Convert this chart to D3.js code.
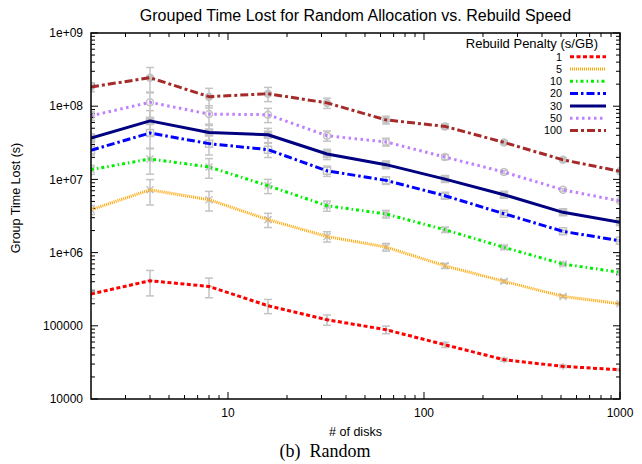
<!DOCTYPE html>
<html>
<head>
<meta charset="utf-8">
<script src="https://cdn.jsdelivr.net/npm/d3@7"></script>
<style>
  body { margin: 0; background: #fff; }
  text { font-family: "Liberation Sans", Arial, sans-serif; }
</style>
</head>
<body>
<div id="visualization"></div>
<script>
// number of disks (x) and rebuild penalty groups
let disks = [2, 4, 8, 16, 32, 64, 128, 256, 512, 1000]
let penalties = ['1', '5', '10', '20', '30', '50', '100']

// group time lost (s), one array per penalty
let lost1 = [2.72e5, 4.13e5, 3.45e5, 1.88e5, 1.21e5, 8.85e4, 5.5e4, 3.44e4, 2.79e4, 2.51e4]
let lost5 = [3.85e6, 7.2e6, 5.28e6, 2.82e6, 1.66e6, 1.19e6, 6.6e5, 4.05e5, 2.52e5, 2.0e5]
let lost10 = [1.36e7, 1.9e7, 1.48e7, 8.2e6, 4.37e6, 3.37e6, 2.05e6, 1.18e6, 6.98e5, 5.37e5]
let lost20 = [2.5e7, 4.3e7, 3.08e7, 2.55e7, 1.31e7, 9.7e6, 5.98e6, 3.4e6, 1.95e6, 1.45e6]
let lost30 = [3.68e7, 6.3e7, 4.38e7, 4.08e7, 2.22e7, 1.59e7, 1.01e7, 6.18e6, 3.55e6, 2.59e6]
let lost50 = [7.4e7, 1.13e8, 7.8e7, 7.65e7, 3.95e7, 3.25e7, 2.02e7, 1.26e7, 7.2e6, 5.07e6]
let lost100 = [1.83e8, 2.45e8, 1.35e8, 1.48e8, 1.11e8, 6.5e7, 5.3e7, 3.2e7, 1.85e7, 1.29e7]

// error bar half-size as a fraction of the value, per disk count
let relErr = [0.14, 0.38, 0.3, 0.22, 0.16, 0.12, 0.08, 0.05, 0.04, 0.03]

let yTickValues = [1e4, 1e5, 1e6, 1e7, 1e8, 1e9]
let yTickLabels = ['10000', '100000', '1e+06', '1e+07', '1e+08', '1e+09']
let xTickValues = [10, 100, 1000]

let allLost = [lost1, lost5, lost10, lost20, lost30, lost50, lost100]

let styles = [
  { color: '#ff0000', dash: '4,2.5', marker: 'plus' },
  { color: '#ffa500', dash: '1,1', marker: 'cross' },
  { color: '#00ee00', dash: '3,3,1.5,3', marker: 'star' },
  { color: '#0000ff', dash: '8,3,2.5,3', marker: 'square' },
  { color: '#000080', dash: null, marker: 'squareFill' },
  { color: '#bf80ff', dash: '2.5,3.5', marker: 'circle' },
  { color: '#a52a2a', dash: '8,3,3,3', marker: 'circleFill' }
]

let width = 642
let height = 464
let plotLeft = 91
let plotRight = 620
let plotTop = 33
let plotBottom = 399

let svg = d3.select('#visualization')
  .append('svg')
    .attr('width', width)
    .attr('height', height)

let x = d3.scaleLog().domain([2, 1000]).range([plotLeft, plotRight])
let y = d3.scaleLog().domain([1e4, 1e9]).range([plotBottom, plotTop])

svg.append('clipPath')
  .attr('id', 'clip')
  .append('rect')
    .attr('x', plotLeft)
    .attr('y', plotTop)
    .attr('width', plotRight - plotLeft)
    .attr('height', plotBottom - plotTop)

// minor ticks 2..9 per decade
let minorTicks = (lo, hi) => {
  let out = []
  for (let d = lo; d < hi; d *= 10) {
    for (let k = 2; k <= 9; k++) out.push(d * k)
  }
  return out
}

let xMinor = minorTicks(1, 1000).filter(v => v > 2 && v < 1000)
let yMinor = minorTicks(1e4, 1e9)

let tickGroup = svg.append('g').attr('stroke', '#000').attr('stroke-width', 1)

let drawXTicks = (vals, len) => {
  vals.forEach(v => {
    tickGroup.append('line').attr('x1', x(v)).attr('x2', x(v)).attr('y1', plotBottom).attr('y2', plotBottom - len)
    tickGroup.append('line').attr('x1', x(v)).attr('x2', x(v)).attr('y1', plotTop).attr('y2', plotTop + len)
  })
}
let drawYTicks = (vals, len) => {
  vals.forEach(v => {
    tickGroup.append('line').attr('x1', plotLeft).attr('x2', plotLeft + len).attr('y1', y(v)).attr('y2', y(v))
    tickGroup.append('line').attr('x1', plotRight).attr('x2', plotRight - len).attr('y1', y(v)).attr('y2', y(v))
  })
}
drawXTicks(xTickValues, 7)
drawXTicks(xMinor, 4)
drawYTicks(yTickValues, 7)
drawYTicks(yMinor, 4)

// tick labels
svg.append('g').selectAll('text')
  .data(yTickValues)
  .enter()
  .append('text')
    .attr('x', plotLeft - 8)
    .attr('y', d => y(d))
    .attr('dy', '0.35em')
    .attr('text-anchor', 'end')
    .attr('font-size', 12)
    .text((d, i) => yTickLabels[i])

svg.append('g').selectAll('text')
  .data(xTickValues)
  .enter()
  .append('text')
    .attr('x', d => x(d))
    .attr('y', plotBottom + 18)
    .attr('text-anchor', 'middle')
    .attr('font-size', 12)
    .text(d => d)

// error bars
let errGroup = svg.append('g')
  .attr('clip-path', 'url(#clip)')
  .attr('stroke', '#c4c4c4')
  .attr('stroke-width', 1.5)
  .attr('fill', 'none')

allLost.forEach(vals => {
  vals.forEach((v, i) => {
    let hi = y(v * (1 + relErr[i]))
    let lo = y(v * (1 - relErr[i]))
    let cx = x(disks[i])
    errGroup.append('line').attr('x1', cx).attr('x2', cx).attr('y1', hi).attr('y2', lo)
    errGroup.append('line').attr('x1', cx - 4).attr('x2', cx + 4).attr('y1', hi).attr('y2', hi)
    errGroup.append('line').attr('x1', cx - 4).attr('x2', cx + 4).attr('y1', lo).attr('y2', lo)
  })
})

// markers
let markerPath = (type, cx, cy) => {
  let s = 3.5
  if (type === 'plus') return `M${cx - s},${cy}H${cx + s}M${cx},${cy - s}V${cy + s}`
  if (type === 'cross') return `M${cx - s},${cy - s}L${cx + s},${cy + s}M${cx - s},${cy + s}L${cx + s},${cy - s}`
  if (type === 'star') return `M${cx - s},${cy}H${cx + s}M${cx},${cy - s}V${cy + s}M${cx - s},${cy - s}L${cx + s},${cy + s}M${cx - s},${cy + s}L${cx + s},${cy - s}`
  if (type === 'square' || type === 'squareFill') return `M${cx - s},${cy - s}H${cx + s}V${cy + s}H${cx - s}Z`
  return `M${cx - s},${cy}A${s},${s} 0 1,1 ${cx + s},${cy}A${s},${s} 0 1,1 ${cx - s},${cy}Z`
}

let markGroup = svg.append('g').attr('clip-path', 'url(#clip)')

allLost.forEach((vals, k) => {
  let st = styles[k]
  vals.forEach((v, i) => {
    markGroup.append('path')
      .attr('d', markerPath(st.marker, x(disks[i]), y(v)))
      .attr('fill', st.marker.endsWith('Fill') ? '#c4c4c4' : 'none')
      .attr('stroke', '#c4c4c4')
      .attr('stroke-width', 1.5)
  })
})

// lines
let line = d3.line()
  .x((d, i) => x(disks[i]))
  .y(d => y(d))

let lineGroup = svg.append('g').attr('clip-path', 'url(#clip)')

lineGroup.selectAll('path')
  .data(allLost)
  .enter()
  .append('path')
    .attr('d', d => line(d))
    .attr('fill', 'none')
    .attr('stroke', (d, i) => styles[i].color)
    .attr('stroke-width', 3)
    .attr('stroke-linejoin', 'round')
    .attr('stroke-dasharray', (d, i) => styles[i].dash)

// border
svg.append('rect')
  .attr('x', plotLeft)
  .attr('y', plotTop)
  .attr('width', plotRight - plotLeft)
  .attr('height', plotBottom - plotTop)
  .attr('fill', 'none')
  .attr('stroke', '#000')
  .attr('stroke-width', 1.5)

// legend
svg.append('text')
  .attr('x', 598)
  .attr('y', 48)
  .attr('text-anchor', 'end')
  .attr('font-size', 13)
  .text('Rebuild Penalty (s/GB)')

let legend = svg.append('g').selectAll('g')
  .data(penalties)
  .enter()
  .append('g')
    .attr('transform', (d, i) => `translate(0, ${56.7 + i * 12.3})`)

legend.append('text')
  .attr('x', 562)
  .attr('y', 0)
  .attr('dy', '0.36em')
  .attr('text-anchor', 'end')
  .attr('font-size', 10.8)
  .text(d => d)

legend.append('line')
  .attr('x1', 570)
  .attr('x2', 606)
  .attr('y1', 0)
  .attr('y2', 0)
  .attr('stroke', (d, i) => styles[i].color)
  .attr('stroke-width', 3)
  .attr('stroke-dasharray', (d, i) => styles[i].dash)

// titles
svg.append('text')
  .attr('x', (plotLeft + plotRight) / 2)
  .attr('y', 21)
  .attr('text-anchor', 'middle')
  .attr('font-size', 16)
  .text('Grouped Time Lost for Random Allocation vs. Rebuild Speed')

svg.append('text')
  .attr('x', (plotLeft + plotRight) / 2)
  .attr('y', 436)
  .attr('text-anchor', 'middle')
  .attr('font-size', 12.5)
  .text('# of disks')

svg.append('text')
  .attr('transform', 'translate(20, 198) rotate(-90)')
  .attr('text-anchor', 'middle')
  .attr('font-size', 12.5)
  .text('Group Time Lost (s)')

svg.append('text')
  .attr('x', 325)
  .attr('y', 457)
  .attr('text-anchor', 'middle')
  .attr('font-size', 18)
  .attr('style', 'font-family: "Liberation Serif", "Times New Roman", serif; white-space: pre')
  .text('(b)  Random')
</script>
</body>
</html>
